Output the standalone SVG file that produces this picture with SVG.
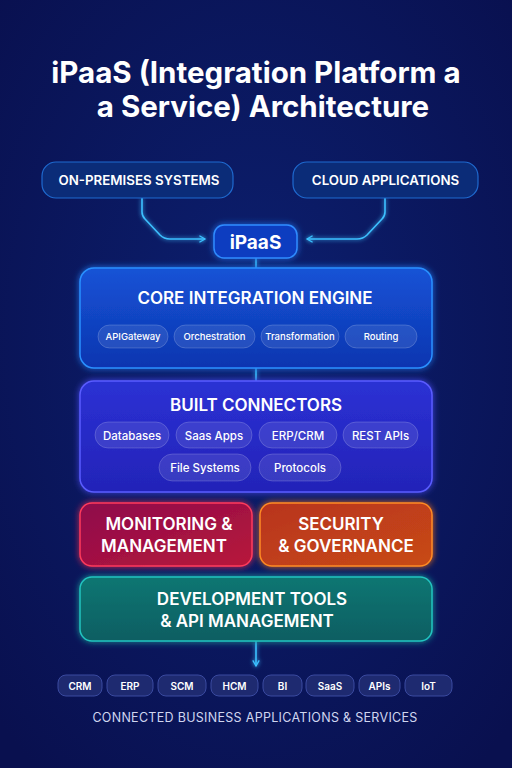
<svg xmlns="http://www.w3.org/2000/svg" width="512" height="768" viewBox="0 0 512 768">
<defs>
<radialGradient id="bg" cx="50%" cy="45%" r="70%">
<stop offset="0" stop-color="#0c2070"/>
<stop offset="1" stop-color="#09104f"/>
</radialGradient>
<linearGradient id="gCore" x1="0" y1="0" x2="0" y2="1">
<stop offset="0" stop-color="#1553d6"/>
<stop offset="1" stop-color="#0d35b0"/>
</linearGradient>
<linearGradient id="gConn" x1="0" y1="0" x2="0" y2="1">
<stop offset="0" stop-color="#2b31d4"/>
<stop offset="1" stop-color="#2323b8"/>
</linearGradient>
<linearGradient id="gMon" x1="0" y1="0" x2="1" y2="1">
<stop offset="0" stop-color="#8e0a4c"/>
<stop offset="1" stop-color="#b8183a"/>
</linearGradient>
<linearGradient id="gSec" x1="0" y1="0" x2="1" y2="1">
<stop offset="0" stop-color="#b8341c"/>
<stop offset="1" stop-color="#c84a18"/>
</linearGradient>
<linearGradient id="gDev" x1="0" y1="0" x2="0" y2="1">
<stop offset="0" stop-color="#0f7672"/>
<stop offset="1" stop-color="#0a5e62"/>
</linearGradient>
<filter id="glow" x="-20%" y="-30%" width="140%" height="160%">
<feGaussianBlur stdDeviation="3" result="b"/>
<feMerge><feMergeNode in="b"/><feMergeNode in="SourceGraphic"/></feMerge>
</filter>
<filter id="lglow" filterUnits="userSpaceOnUse" x="0" y="0" width="512" height="768">
<feGaussianBlur stdDeviation="2" result="b"/>
<feMerge><feMergeNode in="b"/><feMergeNode in="SourceGraphic"/></feMerge>
</filter>
<marker id="ah" viewBox="0 0 10 10" refX="8" refY="5" markerWidth="8" markerHeight="8" orient="auto" markerUnits="userSpaceOnUse">
<path d="M1,1 L8,5 L1,9" fill="none" stroke="#3cc0ff" stroke-width="1.6"/>
</marker>
</defs>
<style>
text{font-family:Inter,"Noto Sans","Liberation Sans",sans-serif;fill:#ffffff;text-anchor:middle}
.title{font-size:29.5px;font-weight:700}
.h{font-size:17px;font-weight:600}
.top{font-size:13.3px;font-weight:600}
.pill{fill:#ffffff;fill-opacity:0.1;stroke:#ffffff;stroke-opacity:0.18;stroke-width:1}
.pt{font-size:9.5px;font-weight:500}
.pt2{font-size:11.5px;font-weight:500}
.bp{fill:#1e2a70;stroke:#3a4aa0;stroke-width:1}
.bt{font-size:10px;font-weight:600}
.conn{fill:none;stroke:#3cc0ff;stroke-width:1.6;stroke-linejoin:round}
</style>
<rect width="512" height="768" fill="url(#bg)"/>
<text class="title" x="256" y="83">iPaaS (Integration Platform a</text>
<text class="title" x="263" y="117">a Service) Architecture</text>

<g id="connectors" filter="url(#lglow)">
<path class="conn" d="M142,198 V212 Q142,216 145,219 L160,235 Q164,239 170,239 H205" marker-end="url(#ah)"/>
<path class="conn" d="M385,198 V212 Q385,216 382,219 L367,235 Q363,239 357,239 H307" marker-end="url(#ah)"/>
<line x1="256" y1="258" x2="256" y2="268" stroke="#3cc0ff" stroke-width="1.5"/>
<line x1="256" y1="368" x2="256" y2="381" stroke="#3cc0ff" stroke-width="1.5"/>
<path class="conn" d="M256,641 V666" marker-end="url(#ah)"/>
</g>

<g id="on-premises">
<rect x="42" y="162" width="191" height="36" rx="14" fill="#0b2c78" stroke="#1f6ad0" stroke-width="1.2"/>
<text class="top" x="139" y="185">ON-PREMISES SYSTEMS</text>
</g>
<g id="cloud">
<rect x="293" y="162" width="185" height="36" rx="14" fill="#0b2c78" stroke="#1f6ad0" stroke-width="1.2"/>
<text class="top" x="385.5" y="185">CLOUD APPLICATIONS</text>
</g>
<g id="ipaas">
<rect x="214" y="225" width="83" height="33" rx="10" fill="#0f3cc0" stroke="#2f8cff" stroke-width="1.5" filter="url(#glow)"/>
<text x="255.5" y="249" style="font-size:19px;font-weight:700">iPaaS</text>
</g>

<g id="core">
<rect x="80" y="268" width="352" height="100" rx="14" fill="url(#gCore)" stroke="#2a90ff" stroke-width="1.5" filter="url(#glow)"/>
<text class="h" x="255" y="304">CORE INTEGRATION ENGINE</text>
<rect class="pill" x="98" y="325" width="70" height="23" rx="11.5"/>
<text class="pt" x="133" y="340">APIGateway</text>
<rect class="pill" x="174" y="325" width="81" height="23" rx="11.5"/>
<text class="pt" x="214.5" y="340">Orchestration</text>
<rect class="pill" x="261" y="325" width="78" height="23" rx="11.5"/>
<text class="pt" x="300" y="340">Transformation</text>
<rect class="pill" x="345" y="325" width="72" height="23" rx="11.5"/>
<text class="pt" x="381" y="340">Routing</text>
</g>

<g id="built-connectors">
<rect x="80" y="381" width="352" height="111" rx="14" fill="url(#gConn)" stroke="#5a5cff" stroke-width="1.5" filter="url(#glow)"/>
<text class="h" x="256" y="411">BUILT CONNECTORS</text>
<rect class="pill" x="95" y="422" width="74" height="26" rx="13"/>
<text class="pt2" x="132" y="439.5">Databases</text>
<rect class="pill" x="176" y="422" width="76" height="26" rx="13"/>
<text class="pt2" x="214" y="439.5">Saas Apps</text>
<rect class="pill" x="259" y="422" width="78" height="26" rx="13"/>
<text class="pt2" x="298" y="439.5">ERP/CRM</text>
<rect class="pill" x="343" y="422" width="75" height="26" rx="13"/>
<text class="pt2" x="380.5" y="439.5">REST APIs</text>
<rect class="pill" x="159" y="454" width="92" height="27" rx="13.5"/>
<text class="pt2" x="205" y="472">File Systems</text>
<rect class="pill" x="259" y="454" width="82" height="27" rx="13.5"/>
<text class="pt2" x="300" y="472">Protocols</text>
</g>

<g id="monitoring">
<rect x="80" y="503" width="172" height="63" rx="12" fill="url(#gMon)" stroke="#ff3a5c" stroke-width="1.5" filter="url(#glow)"/>
<text class="h" x="169" y="530">MONITORING &amp;</text>
<text class="h" x="164" y="552">MANAGEMENT</text>
</g>
<g id="security">
<rect x="260" y="503" width="172" height="63" rx="12" fill="url(#gSec)" stroke="#ff8a24" stroke-width="1.5" filter="url(#glow)"/>
<text class="h" x="341" y="530">SECURITY</text>
<text class="h" x="346" y="552">&amp; GOVERNANCE</text>
</g>
<g id="devtools">
<rect x="80" y="577" width="352" height="64" rx="12" fill="url(#gDev)" stroke="#22c4c0" stroke-width="1.5" filter="url(#glow)"/>
<text class="h" x="252" y="605">DEVELOPMENT TOOLS</text>
<text class="h" x="247" y="627">&amp; API MANAGEMENT</text>
</g>

<g id="apps">
<rect class="bp" x="58" y="675" width="44" height="21" rx="8"/>
<text class="bt" x="80" y="689.5">CRM</text>
<rect class="bp" x="107" y="675" width="46" height="21" rx="8"/>
<text class="bt" x="130" y="689.5">ERP</text>
<rect class="bp" x="158" y="675" width="48" height="21" rx="8"/>
<text class="bt" x="182" y="689.5">SCM</text>
<rect class="bp" x="211" y="675" width="47" height="21" rx="8"/>
<text class="bt" x="234.5" y="689.5">HCM</text>
<rect class="bp" x="263" y="675" width="39" height="21" rx="8"/>
<text class="bt" x="282.5" y="689.5">BI</text>
<rect class="bp" x="306" y="675" width="48" height="21" rx="8"/>
<text class="bt" x="330" y="689.5">SaaS</text>
<rect class="bp" x="359" y="675" width="41" height="21" rx="8"/>
<text class="bt" x="379.5" y="689.5">APIs</text>
<rect class="bp" x="405" y="675" width="47" height="21" rx="8"/>
<text class="bt" x="428.5" y="689.5">IoT</text>
</g>
<text x="255" y="722" style="font-size:12.5px;font-weight:400;fill:#d0d6f0;letter-spacing:0.3px">CONNECTED BUSINESS APPLICATIONS &amp; SERVICES</text>
</svg>
